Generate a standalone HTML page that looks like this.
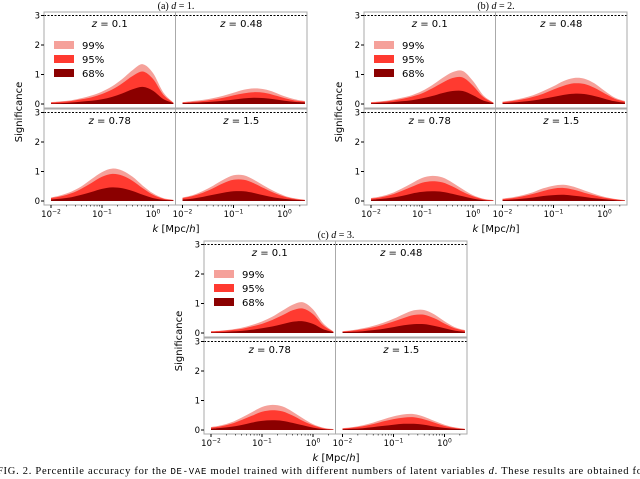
<!DOCTYPE html>
<html><head><meta charset="utf-8"><style>
body{margin:0;background:#fff;width:640px;height:479px;overflow:hidden}
svg{display:block}
text{font-family:"DejaVu Sans","Liberation Sans",sans-serif}
.ser{font-family:"Liberation Serif",serif}
</style></head><body>
<svg id="fig" width="640" height="479" viewBox="0 0 640 479"></svg>
<script>
const logK=[-2,-1.8,-1.6,-1.4,-1.2,-1.0,-0.8,-0.6,-0.4,-0.2,0,0.2,0.4];
const percentiles=["99%","95%","68%"];
const redshifts=["0.1","0.48","0.78","1.5"];
const figTitles=["(a) d = 1.","(b) d = 2.","(c) d = 3."];
const yTicks=[0,1,2,3];
const xTicks=[-2,-1,0];
// figure a
const a1_99=[0.06,0.09,0.13,0.2,0.29,0.42,0.6,0.85,1.15,1.35,1.05,0.4,0.05];
const a1_95=[0.05,0.07,0.1,0.16,0.23,0.34,0.49,0.7,0.95,1.1,0.85,0.32,0.04];
const a1_68=[0.02,0.03,0.05,0.08,0.11,0.16,0.24,0.36,0.5,0.58,0.45,0.17,0.03];
const a2_99=[0.06,0.1,0.14,0.2,0.28,0.38,0.48,0.53,0.5,0.4,0.26,0.16,0.1];
const a2_95=[0.05,0.07,0.1,0.15,0.21,0.29,0.36,0.4,0.38,0.3,0.2,0.12,0.08];
const a2_68=[0.03,0.04,0.06,0.08,0.11,0.15,0.19,0.21,0.2,0.16,0.11,0.07,0.05];
const a3_99=[0.12,0.2,0.32,0.5,0.75,0.98,1.1,1.03,0.82,0.52,0.26,0.1,0.04];
const a3_95=[0.1,0.16,0.26,0.42,0.62,0.82,0.92,0.86,0.68,0.43,0.21,0.08,0.03];
const a3_68=[0.05,0.08,0.13,0.21,0.31,0.41,0.46,0.43,0.34,0.21,0.1,0.04,0.02];
const a4_99=[0.12,0.2,0.34,0.52,0.72,0.87,0.87,0.72,0.52,0.33,0.18,0.09,0.04];
const a4_95=[0.1,0.17,0.28,0.43,0.6,0.72,0.72,0.6,0.43,0.27,0.15,0.07,0.03];
const a4_68=[0.05,0.08,0.14,0.21,0.28,0.33,0.33,0.27,0.19,0.12,0.07,0.04,0.02];
// figure b
const b1_99=[0.06,0.09,0.14,0.21,0.3,0.44,0.64,0.88,1.08,1.12,0.78,0.3,0.05];
const b1_95=[0.05,0.07,0.11,0.17,0.25,0.36,0.53,0.72,0.88,0.9,0.62,0.24,0.04];
const b1_68=[0.02,0.04,0.06,0.09,0.13,0.19,0.27,0.37,0.44,0.44,0.3,0.12,0.03];
const b2_99=[0.08,0.13,0.2,0.3,0.44,0.6,0.78,0.88,0.86,0.7,0.45,0.22,0.1];
const b2_95=[0.06,0.1,0.16,0.24,0.35,0.49,0.62,0.7,0.68,0.55,0.36,0.18,0.08];
const b2_68=[0.03,0.05,0.08,0.12,0.18,0.24,0.31,0.35,0.34,0.27,0.18,0.09,0.04];
const b3_99=[0.1,0.16,0.26,0.42,0.6,0.78,0.85,0.8,0.62,0.4,0.2,0.08,0.03];
const b3_95=[0.08,0.13,0.21,0.34,0.48,0.62,0.67,0.63,0.49,0.31,0.16,0.06,0.02];
const b3_68=[0.04,0.07,0.11,0.17,0.25,0.31,0.33,0.31,0.24,0.16,0.08,0.03,0.01];
const b4_99=[0.08,0.13,0.2,0.3,0.43,0.52,0.55,0.48,0.36,0.24,0.14,0.07,0.03];
const b4_95=[0.06,0.1,0.16,0.24,0.34,0.42,0.44,0.38,0.28,0.19,0.11,0.06,0.02];
const b4_68=[0.03,0.05,0.08,0.12,0.17,0.2,0.21,0.18,0.14,0.09,0.06,0.03,0.01];
// figure c
const c1_99=[0.06,0.08,0.12,0.18,0.27,0.39,0.55,0.76,0.96,1.04,0.8,0.33,0.05];
const c1_95=[0.05,0.07,0.1,0.14,0.22,0.31,0.44,0.6,0.77,0.83,0.64,0.26,0.04];
const c1_68=[0.02,0.03,0.05,0.07,0.11,0.16,0.22,0.3,0.38,0.4,0.31,0.13,0.03];
const c2_99=[0.06,0.1,0.16,0.24,0.35,0.48,0.64,0.77,0.78,0.63,0.4,0.2,0.1];
const c2_95=[0.05,0.08,0.13,0.19,0.28,0.39,0.51,0.61,0.62,0.5,0.32,0.16,0.08];
const c2_68=[0.03,0.04,0.06,0.1,0.14,0.2,0.26,0.3,0.3,0.24,0.16,0.08,0.04];
const c3_99=[0.1,0.16,0.26,0.42,0.6,0.78,0.85,0.8,0.62,0.4,0.2,0.08,0.03];
const c3_95=[0.08,0.13,0.21,0.34,0.48,0.62,0.67,0.63,0.49,0.31,0.16,0.06,0.02];
const c3_68=[0.04,0.07,0.11,0.17,0.25,0.31,0.33,0.31,0.24,0.16,0.08,0.03,0.01];
const c4_99=[0.06,0.1,0.16,0.25,0.36,0.46,0.53,0.54,0.45,0.31,0.18,0.09,0.04];
const c4_95=[0.05,0.08,0.13,0.2,0.29,0.37,0.42,0.43,0.36,0.25,0.14,0.07,0.03];
const c4_68=[0.02,0.04,0.06,0.1,0.14,0.18,0.21,0.21,0.18,0.12,0.07,0.04,0.02];

const figData=[
 [[a1_99,a1_95,a1_68],[a2_99,a2_95,a2_68],[a3_99,a3_95,a3_68],[a4_99,a4_95,a4_68]],
 [[b1_99,b1_95,b1_68],[b2_99,b2_95,b2_68],[b3_99,b3_95,b3_68],[b4_99,b4_95,b4_68]],
 [[c1_99,c1_95,c1_68],[c2_99,c2_95,c2_68],[c3_99,c3_95,c3_68],[c4_99,c4_95,c4_68]]
];
const colors=["#f5a19a","#ff3a30","#8b0000"];
const NS="http://www.w3.org/2000/svg";
const svg=document.getElementById('fig');
function el(tag,attrs,parent,txt){const e=document.createElementNS(NS,tag);for(const k in attrs)e.setAttribute(k,attrs[k]);if(txt!==undefined)e.textContent=txt;(parent||svg).appendChild(e);return e;}
function smoothPath(pts){
  let d='';
  for(let i=0;i<pts.length-1;i++){
    const p0=pts[Math.max(0,i-1)],p1=pts[i],p2=pts[i+1],p3=pts[Math.min(pts.length-1,i+2)];
    const c1x=p1[0]+(p2[0]-p0[0])/6,c1y=p1[1]+(p2[1]-p0[1])/6;
    const c2x=p2[0]-(p3[0]-p1[0])/6,c2y=p2[1]-(p3[1]-p1[1])/6;
    d+=` C${c1x.toFixed(1)},${c1y.toFixed(1)} ${c2x.toFixed(1)},${c2y.toFixed(1)} ${p2[0].toFixed(1)},${p2[1].toFixed(1)}`;
  }
  return d;
}
const offsets=[[0,0],[320,0],[160,229]];
const PW=131.5, PH=96;
function drawFig(fi){
  const [ox,oy]=offsets[fi];
  const g=el('g',{},svg);
  
  
  const t=el('text',{x:ox+176,y:oy+9,'text-anchor':'middle','font-size':10,class:'ser'},g);
  
  
  const lbl=figTitles[fi].split('d = ');
  t.appendChild(document.createTextNode(lbl[0]));
  el('tspan',{'font-style':'italic'},t,'d');
  t.appendChild(document.createTextNode(' = '+lbl[1]));
  for(let p=0;p<4;p++){
    const col=p%2,row=Math.floor(p/2);
    const px=ox+44+col*PW, py=oy+12+row*PH+row*1;
    const sx=v=>px+7+(v+2)*51;
    const sy=v=>py+92-v*29.5;
    const pg=el('g',{},g);
    
    
    figData[fi][p].forEach((arr,si)=>{
      const pts=arr.map((v,i)=>[sx(logK[i]),sy(v)]);
      let d='M'+sx(logK[0])+','+sy(0)+' L'+pts[0][0].toFixed(1)+','+pts[0][1].toFixed(1);
      d+=smoothPath(pts);
      d+=' L'+sx(logK[logK.length-1])+','+sy(0)+'Z';
      const a=el('path',{d:d,fill:colors[si]},pg);
      
      
    });
    const dl=el('line',{x1:px,x2:px+PW,y1:sy(3),y2:sy(3),stroke:'#000','stroke-width':1,'stroke-dasharray':'2,1.5'},pg);
    
    
    el('rect',{x:px,y:py,width:PW,height:PH,fill:'none',stroke:'#aaa','stroke-width':1},pg);
    const tt=el('text',{x:px+PW/2,y:py+15,'text-anchor':'middle','font-size':10},pg);
    
    
    el('tspan',{'font-style':'italic'},tt,'z');
    tt.appendChild(document.createTextNode(' = '+redshifts[p]));
    if(col===0){
      yTicks.forEach(v=>{
        el('line',{x1:px-3,x2:px,y1:sy(v),y2:sy(v),stroke:'#000'},pg);
        const yl=el('text',{x:px-4,y:sy(v)+3,'text-anchor':'end','font-size':8.5},pg,String(v));
        
        
      });
    }
    if(row===1){
      for(let dcd=-2;dcd<=0;dcd++){for(let m=2;m<10;m++){const lv=dcd+Math.log10(m);if(lv<=0.45)el('line',{x1:sx(lv),x2:sx(lv),y1:py+PH,y2:py+PH+1.5,stroke:'#000','stroke-width':0.6},pg);}}
      xTicks.forEach(v=>{
        el('line',{x1:sx(v),x2:sx(v),y1:py+PH,y2:py+PH+3,stroke:'#000'},pg);
        const xl=el('text',{x:sx(v),y:py+PH+12,'text-anchor':'middle','font-size':8.5},pg,'10');
        
        
        el('tspan',{dy:-3.5,'font-size':6},xl,String(v).replace('-','−'));
      });
    }
    if(p===0){
      percentiles.forEach((s,i)=>{
        const r=el('rect',{x:px+10,y:py+29+i*14,width:20,height:8,fill:colors[i]},pg);
        
        
        const lt=el('text',{x:px+38,y:py+37+i*14,'font-size':10},pg,s);
        
        
      });
    }
  }
  const yl=el('text',{x:0,y:0,transform:`translate(${ox+22},${oy+112}) rotate(-90)`,'text-anchor':'middle','font-size':10},g,'Significance');
  
  
  const xl=el('text',{x:ox+176,y:oy+232,'text-anchor':'middle','font-size':10},g);
  
  
  el('tspan',{'font-style':'italic'},xl,'k');
  xl.appendChild(document.createTextNode(' [Mpc/'));
  el('tspan',{'font-style':'italic'},xl,'h');
  xl.appendChild(document.createTextNode(']'));
}
for(let f=0;f<3;f++)drawFig(f);
const cap=el('text',{x:-3,y:474,'font-size':10.5,class:'ser',textLength:645,lengthAdjust:'spacing'},svg);


cap.appendChild(document.createTextNode('FIG. 2.  Percentile accuracy for the '));
el('tspan',{'font-family':'Liberation Mono, monospace','font-size':9},cap,'DE-VAE');
cap.appendChild(document.createTextNode(' model trained with different numbers of latent variables '));
el('tspan',{'font-style':'italic'},cap,'d');
cap.appendChild(document.createTextNode('.  These results are obtained fo'));
</script>
</body></html>
